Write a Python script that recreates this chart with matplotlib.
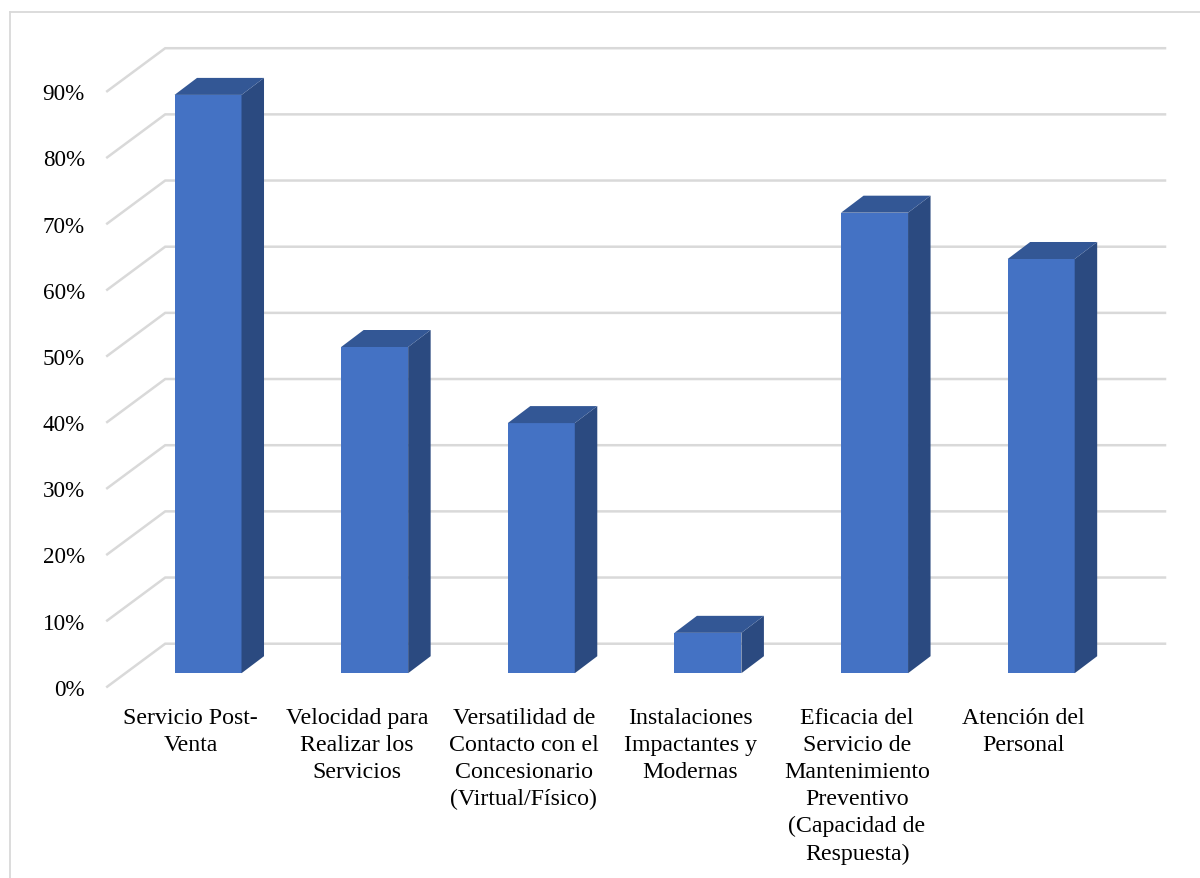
import matplotlib.pyplot as plt
from matplotlib.patches import Polygon
from matplotlib.lines import Line2D

categories = [
    "Servicio Post-\nVenta",
    "Velocidad para\nRealizar los\nServicios",
    "Versatilidad de\nContacto con el\nConcesionario\n(Virtual/Físico)",
    "Instalaciones\nImpactantes y\nModernas",
    "Eficacia del\nServicio de\nMantenimiento\nPreventivo\n(Capacidad de\nRespuesta)",
    "Atención del\nPersonal",
]
values = [87.4, 49.3, 37.8, 6.1, 69.6, 62.6]
y_ticks = [0, 10, 20, 30, 40, 50, 60, 70, 80, 90]
y_labels = ["0%", "10%", "20%", "30%", "40%", "50%", "60%", "70%", "80%", "90%"]

W, H = 1200, 879
FRONT = "#4472C4"
SIDE = "#2B4A80"
TOP = "#335795"
GRID = "#D9D9D9"

plt.rcParams["font.family"] = ["Liberation Serif", "DejaVu Serif"]

fig = plt.figure(figsize=(W / 100, H / 100), dpi=100)

# outer chart border, only top and left fall inside the canvas
fig.add_artist(Line2D([10 / W, 10 / W], [0, 1 - 13 / H], color=GRID, lw=1.3))
fig.add_artist(Line2D([10 / W, 1], [1 - 13 / H, 1 - 13 / H], color=GRID, lw=1.3))

# axes box is the front plane of the 3D floor
left, right, y0, y90 = 107.2, 1107.0, 687.7, 92.2
ax = fig.add_axes([left / W, 1 - y0 / H, (right - left) / W, (y0 - y90) / H])
ax.set_xlim(0, 6)
ax.set_ylim(0, 90)
ax.patch.set_visible(False)
for s in ax.spines.values():
    s.set_visible(False)

px_x = 6 / (right - left)
px_y = 90 / (y0 - y90)

# wall depth and bar depth in pixels
wall_dx, wall_dy = 58 * px_x, 43 * px_y
shift_x, shift_y = 17.5 * px_x, 13.5 * px_y
side_dx, side_dy = 22.5 * px_x, 17 * px_y
bar_w = 67 * px_x

for t in y_ticks:
    ax.plot([0, wall_dx, 6 + wall_dx], [t, t + wall_dy, t + wall_dy],
            color=GRID, lw=1.8, clip_on=False, zorder=1, solid_joinstyle="miter")

for i, v in enumerate(values):
    x0 = i + 0.5 + shift_x - bar_w / 2
    x1 = x0 + bar_w
    b = shift_y
    t = shift_y + v
    ax.bar(x0, v, width=bar_w, bottom=b, align="edge", color=FRONT, zorder=3, clip_on=False)
    ax.add_patch(Polygon([(x1, b), (x1 + side_dx, b + side_dy), (x1 + side_dx, t + side_dy), (x1, t)],
                         closed=True, facecolor=SIDE, edgecolor="none", zorder=3, clip_on=False))
    ax.add_patch(Polygon([(x0, t), (x1, t), (x1 + side_dx, t + side_dy), (x0 + side_dx, t + side_dy)],
                         closed=True, facecolor=TOP, edgecolor="none", zorder=3, clip_on=False))

ax.set_yticks(y_ticks)
ax.set_yticklabels(y_labels, fontsize=16.7, color="#000000")
ax.set_xticks([i + 0.5 for i in range(len(categories))])
ax.set_xticklabels(categories, fontsize=17.2, color="#000000", linespacing=1.38, ha="center", va="top")
ax.tick_params(axis="both", length=0)
ax.tick_params(axis="y", pad=16)
ax.tick_params(axis="x", pad=14.5)

fig.savefig("out.png", dpi=100, facecolor="white")
